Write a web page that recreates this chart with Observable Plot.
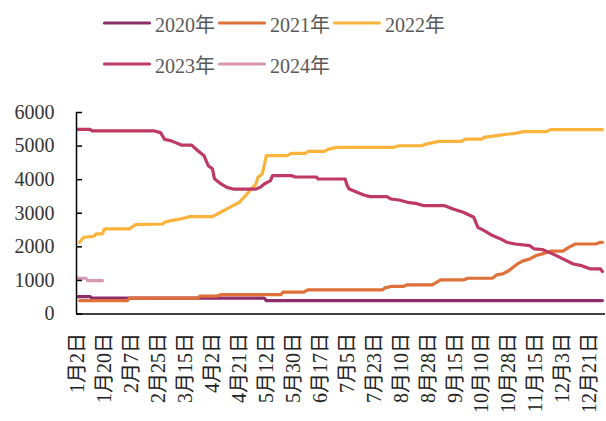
<!DOCTYPE html>
<html>
<head>
<meta charset="utf-8">
<script src="https://cdn.jsdelivr.net/npm/d3@7"></script>
<script src="https://cdn.jsdelivr.net/npm/@observablehq/plot@0.6"></script>
<style>
  html, body { margin: 0; padding: 0; background: #fff; }
  #wrap { width: 606px; height: 421px; position: relative; overflow: hidden;
          font-family: "Liberation Serif", "Noto Sans CJK SC", serif; }
  #legend { position: relative; width: 606px; height: 90px; }
  .item { position: absolute; display: flex; align-items: center; height: 24px;
          font-size: 20px; color: #595959; white-space: nowrap; }
  .item svg { margin-right: 3px; }
</style>
</head>
<body>
<div id="wrap">
  <div id="legend"></div>
  <div id="chart"></div>
</div>
<script>
// ---- data (x = trading-day index, y = value) ----
const seriesNames = ["2020年", "2021年", "2022年", "2023年", "2024年"];
const seriesColors = ["#8D2D6B", "#E0703A", "#FBB33C", "#BE3A63", "#D896B1"];

const s2020 = [[0,520],[6,520],[7,470],[90,470],[91,400],[253,400]];
const s2021 = [[1,400],[24,400],[25,470],[58,470],[59,530],[67,530],[69,575],[98,575],[99,650],[109,650],[111,720],
  [147,720],[148,770],[151,820],[157,820],[159,870],[171,870],[175,1015],[186,1015],[188,1065],[200,1065],[202,1165],
  [205,1195],[208,1295],[209,1345],[212,1490],[215,1590],[218,1640],[221,1740],[224,1790],[228,1870],[234,1870],
  [237,1990],[240,2085],[250,2085],[252,2135],[253,2135]];
const s2022 = [[1,2135],[3,2285],[8,2315],[9,2385],[12,2385],[13,2535],[25,2535],[28,2660],[41,2680],[42,2730],
  [45,2780],[48,2810],[51,2850],[54,2900],[65,2900],[69,3030],[72,3130],[75,3225],[78,3325],[79,3395],[81,3525],
  [83,3670],[86,3870],[87,4070],[89,4170],[90,4415],[91,4715],[101,4715],[103,4780],[110,4780],[111,4840],
  [119,4840],[121,4910],[125,4960],[152,4960],[155,5010],[166,5010],[168,5060],[174,5140],[185,5140],[187,5210],
  [195,5210],[196,5260],[202,5310],[208,5360],[211,5380],[215,5430],[226,5430],[228,5490],[253,5490]];
const s2023 = [[0,5500],[6,5500],[7,5450],[37,5450],[40,5400],[42,5200],[45,5160],[47,5110],[50,5030],[55,5030],
  [58,4860],[61,4710],[63,4415],[65,4325],[66,4030],[69,3880],[72,3770],[75,3720],[86,3720],[88,3770],[90,3870],
  [93,3970],[94,4120],[103,4120],[105,4080],[115,4080],[116,4020],[129,4020],[130,3820],[131,3720],[135,3620],
  [138,3545],[141,3495],[149,3495],[151,3425],[155,3395],[159,3325],[163,3295],[167,3225],[177,3225],[181,3125],
  [186,3030],[191,2880],[193,2580],[196,2480],[200,2335],[204,2235],[207,2135],[211,2085],[218,2035],[220,1940],
  [224,1920],[229,1790],[234,1640],[239,1490],[243,1440],[247,1345],[252,1345],[253,1265]];
const s2024 = [[0,1065],[4,1065],[5,995],[12,995]];

const tickLabels = ["1月2日","1月20日","2月7日","2月25日","3月15日","4月2日","4月21日","5月12日","5月30日","6月17日",
  "7月5日","7月23日","8月10日","8月28日","9月15日","10月10日","10月28日","11月15日","12月3日","12月21日"];
const tickStep = 13;
const dayCount = 255;
const yTicks = [0, 1000, 2000, 3000, 4000, 5000, 6000];

// ---- build table ----
const allSeries = [s2020, s2021, s2022, s2023, s2024];
const rows = [];
allSeries.forEach((s, k) => s.forEach(([i, v]) => rows.push({series: seriesNames[k], i, v})));

// ---- legend ----
const legend = document.getElementById("legend");
seriesNames.forEach((name, k) => {
  const col = k % 3, row = Math.floor(k / 3);
  const div = document.createElement("div");
  div.className = "item";
  div.style.left = (102 + col * 115) + "px";
  div.style.top = (11 + row * 41) + "px";
  div.innerHTML = `<svg width="50" height="8"><line x1="2.5" x2="47.5" y1="4" y2="4" stroke="${seriesColors[k]}" stroke-width="3.2" stroke-linecap="round"/></svg><span>${name}</span>`;
  legend.appendChild(div);
});

// ---- chart ----
const chart = Plot.plot({
  width: 606,
  height: 331,
  marginTop: 22,
  marginBottom: 107.5,
  marginLeft: 76,
  marginRight: 1,
  style: {fontFamily: '"Liberation Serif", "Noto Sans CJK SC", serif', fontSize: "20px", background: "#fff"},
  x: {type: "linear", domain: [-0.5, dayCount - 0.5]},
  y: {domain: [0, 6000]},
  color: {domain: seriesNames, range: seriesColors},
  marks: [
    Plot.line(rows, {x: "i", y: "v", z: "series", stroke: "series", strokeWidth: 3.2, strokeLinejoin: "round", strokeLinecap: "round"}),
    Plot.ruleY([0], {stroke: "#000", strokeWidth: 1.5}),
    Plot.ruleX([-0.5], {stroke: "#000", strokeWidth: 1.5}),
    Plot.axisY({ticks: yTicks, tickSize: 6, dx: 6, fill: "none", stroke: "#000", strokeWidth: 1.5, label: null}),
    Plot.axisY({ticks: yTicks, tickSize: 0, tickPadding: 22, tickFormat: d => String(d), fill: "#333", label: null}),
    Plot.axisX({ticks: tickLabels.map((_, k) => k * tickStep), tickFormat: d => tickLabels[Math.round(d / tickStep)],
      tickRotate: -90, tickSize: 0, tickPadding: 19, fill: "#222", label: null})
  ]
});
document.getElementById("chart").appendChild(chart);
</script>
</body>
</html>
